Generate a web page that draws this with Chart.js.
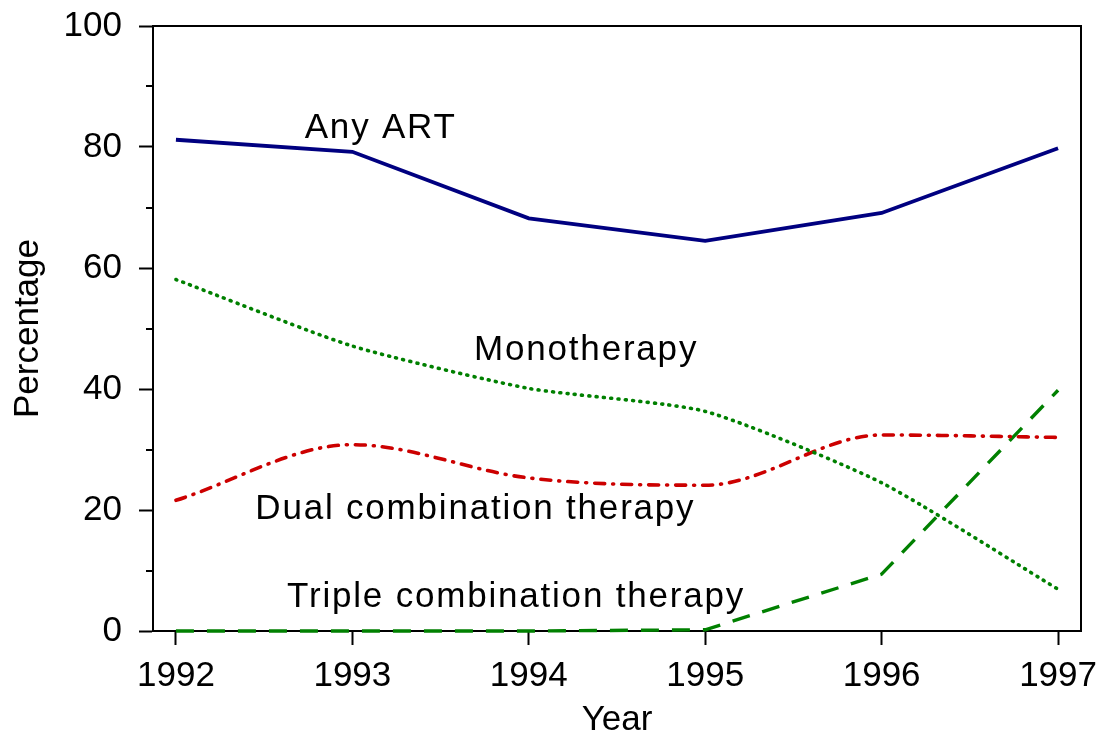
<!DOCTYPE html>
<html>
<head>
<meta charset="utf-8">
<script src="https://cdn.jsdelivr.net/npm/chart.js@4/dist/chart.umd.min.js"></script>
<style>
  html, body { margin: 0; padding: 0; background: #fff; }
  #wrap { width: 1101px; height: 737px; }
</style>
</head>
<body>
<div id="wrap"><canvas id="c" width="1101" height="737"></canvas></div>
<script>
// Percentage of patients on antiretroviral therapy, by year
const years = [1992, 1993, 1994, 1995, 1996, 1997];
const anyArt = [81.2, 79.2, 68.2, 64.5, 69.1, 79.8];
const mono = [58.1, 47.1, 40.1, 36.3, 24.5, 6.9];
const dual = [21.6, 30.8, 25.3, 24.1, 32.4, 32.0];
const triple = [0, 0, 0, 0.2, 9.4, 39.8];
const yTicks = [0, 20, 40, 60, 80, 100];
const yMinor = [10, 30, 50, 70, 90];

// series labels written inside the plot: [text, year, value at baseline]
const seriesLabels = [
  ['Any ART', 1992.73, 81.5],
  ['Monotherapy', 1993.69, 44.8],
  ['Dual combination therapy', 1992.45, 18.5],
  ['Triple combination therapy', 1992.63, 4.0],
];

const FONT = '"Liberation Sans", Arial, sans-serif';
const pts = arr => arr.map((v, i) => ({ x: years[i], y: v }));

const frame = {
  id: 'frame',
  afterDraw(chart) {
    const { ctx, chartArea: a, scales } = chart;
    ctx.save();
    ctx.strokeStyle = '#000';
    ctx.lineWidth = 2;
    // top and right sides of the box
    ctx.beginPath();
    ctx.moveTo(a.left, a.top);
    ctx.lineTo(a.right, a.top);
    ctx.lineTo(a.right, a.bottom);
    ctx.stroke();
    // minor y ticks
    ctx.beginPath();
    yMinor.forEach(v => {
      const y = Math.round(scales.y.getPixelForValue(v));
      ctx.moveTo(a.left - 7, y);
      ctx.lineTo(a.left, y);
    });
    ctx.stroke();
    // series labels
    ctx.fillStyle = '#000';
    ctx.font = '35px ' + FONT;
    ctx.letterSpacing = '1.8px';
    ctx.textAlign = 'left';
    ctx.textBaseline = 'alphabetic';
    seriesLabels.forEach(([t, x, y]) => {
      ctx.fillText(t, scales.x.getPixelForValue(x), scales.y.getPixelForValue(y));
    });
    ctx.restore();
  }
};

new Chart(document.getElementById('c'), {
  type: 'line',
  data: {
    datasets: [
      { label: 'Any ART', data: pts(anyArt), borderColor: '#000080', borderWidth: 3.8, tension: 0 },
      { label: 'Monotherapy', data: pts(mono), borderColor: '#008000', borderWidth: 3.6,
        borderDash: [1, 6.3], borderCapStyle: 'round', tension: 0.2 },
      { label: 'Dual combination therapy', data: pts(dual), borderColor: '#cc0000', borderWidth: 3.6,
        borderDash: [10, 8, 1, 8], borderCapStyle: 'round', cubicInterpolationMode: 'monotone' },
      { label: 'Triple combination therapy', data: pts(triple), borderColor: '#008000', borderWidth: 3.4,
        borderDash: [18, 13], tension: 0 },
    ].map(d => Object.assign(d, { fill: false, pointRadius: 0, clip: false }))
  },
  options: {
    responsive: false,
    animation: false,
    events: [],
    layout: { padding: { top: 26, right: 20, left: 0, bottom: 0 } },
    plugins: { legend: { display: false }, tooltip: { enabled: false } },
    scales: {
      x: {
        type: 'linear',
        min: 1991.87,
        max: 1997.13,
        afterBuildTicks: s => { s.ticks = years.map(v => ({ value: v })); },
        afterFit: s => { s.height = 106; s.paddingLeft = 0; s.paddingRight = 0; },
        grid: { drawOnChartArea: false, drawTicks: true, tickLength: 14, tickWidth: 2, tickColor: '#000' },
        border: { display: true, color: '#000', width: 2 },
        ticks: { color: '#000', font: { family: FONT, size: 35 }, padding: 10, maxRotation: 0,
                 callback: v => String(v) },
        title: { display: true, text: 'Year', color: '#000', font: { family: FONT, size: 35 },
                 padding: { top: 0, bottom: -4 } }
      },
      y: {
        min: 0,
        max: 100,
        afterBuildTicks: s => { s.ticks = yTicks.map(v => ({ value: v })); },
        afterFit: s => { s.width = 153; s.paddingTop = 0; s.paddingBottom = 0; },
        grid: { drawOnChartArea: false, drawTicks: true, tickLength: 14, tickWidth: 2, tickColor: '#000' },
        border: { display: true, color: '#000', width: 2 },
        ticks: { color: '#000', font: { family: FONT, size: 35 }, padding: 17 },
        title: { display: true, text: 'Percentage', color: '#000', font: { family: FONT, size: 35 },
                 padding: { top: 7, bottom: 0 } }
      }
    }
  },
  plugins: [frame]
});
</script>
</body>
</html>
